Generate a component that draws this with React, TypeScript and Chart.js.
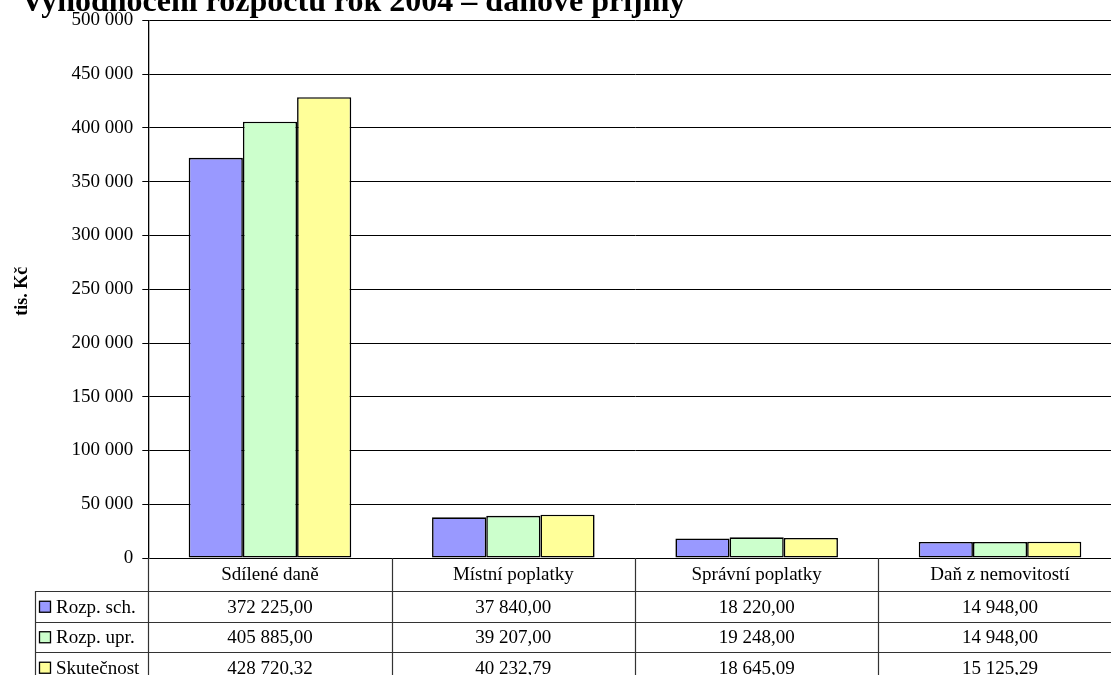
import React, { useEffect, useRef } from "react";
import { Chart, registerables } from "chart.js";

Chart.register(...registerables);

const TITLE = "Vyhodnocení rozpočtu rok 2004 – daňové příjmy";
const Y_TITLE = "tis. Kč";
const CATEGORIES = ["Sdílené daně", "Místní poplatky", "Správní poplatky", "Daň z nemovitostí"];
const SERIES_NAMES = ["Rozp. sch.", "Rozp. upr.", "Skutečnost"];
const ROZP_SCH = [372225.0, 37840.0, 18220.0, 14948.0];
const ROZP_UPR = [405885.0, 39207.0, 19248.0, 14948.0];
const SKUTECNOST = [428720.32, 40232.79, 18645.09, 15125.29];
const SERIES_COLORS = ["#9999FF", "#CCFFCC", "#FFFF99"];
const Y_MIN = 0;
const Y_MAX = 500000;
const Y_STEP = 50000;

const SERIES_VALUES = [ROZP_SCH, ROZP_UPR, SKUTECNOST];

const SERIF = '"Liberation Serif", "Times New Roman", serif';

function groupThousands(s: string): string {
  return s.replace(/\B(?=(\d{3})+(?!\d))/g, " ");
}
function fmtTick(v: number): string {
  return groupThousands(String(Math.round(v)));
}
function fmtValue(v: number): string {
  const [i, d] = v.toFixed(2).split(".");
  return groupThousands(i) + "," + d;
}

const HEADER_BOTTOM = 591;
const ROW_H = 30.5;
const TABLE_LEFT = 35;

const tablePlugin = {
  id: "tablePlugin",
  afterDraw(chart: any) {
    const ctx = chart.ctx as CanvasRenderingContext2D;
    const area = chart.chartArea;
    const W = chart.width;
    const catW = (area.right - area.left) / CATEGORIES.length;
    const bottom = HEADER_BOTTOM + ROW_H * SERIES_NAMES.length;
    ctx.save();

    // Title
    ctx.fillStyle = "#000";
    ctx.font = `bold 32px ${SERIF}`;
    ctx.textAlign = "left";
    ctx.textBaseline = "alphabetic";
    ctx.fillText(TITLE, 21, 11);

    // Y axis title
    ctx.save();
    ctx.translate(22, (area.top + area.bottom) / 2 + 2);
    ctx.rotate(-Math.PI / 2);
    ctx.font = `bold 18px ${SERIF}`;
    ctx.textAlign = "center";
    ctx.textBaseline = "middle";
    ctx.fillText(Y_TITLE, 0, 0);
    ctx.restore();

    // Table lines
    ctx.strokeStyle = "#333";
    ctx.lineWidth = 1.2;
    ctx.beginPath();
    for (let i = 0; i <= CATEGORIES.length; i++) {
      const x = Math.round(area.left + i * catW) + 0.5;
      ctx.moveTo(x, area.bottom);
      ctx.lineTo(x, bottom);
    }
    for (let r = 0; r <= SERIES_NAMES.length; r++) {
      const y = Math.round(HEADER_BOTTOM + r * ROW_H) + 0.5;
      ctx.moveTo(TABLE_LEFT, y);
      ctx.lineTo(W, y);
    }
    ctx.moveTo(TABLE_LEFT + 0.5, HEADER_BOTTOM);
    ctx.lineTo(TABLE_LEFT + 0.5, bottom);
    ctx.stroke();

    // Header text
    ctx.fillStyle = "#000";
    ctx.font = `19px ${SERIF}`;
    ctx.textAlign = "center";
    ctx.textBaseline = "middle";
    CATEGORIES.forEach((c, i) => {
      ctx.fillText(c, area.left + (i + 0.5) * catW, (area.bottom + HEADER_BOTTOM) / 2 + 1);
    });

    // Rows
    SERIES_NAMES.forEach((name, r) => {
      const cy = HEADER_BOTTOM + (r + 0.5) * ROW_H + 1.5;
      ctx.fillStyle = SERIES_COLORS[r];
      ctx.fillRect(39.5, cy - 6.5, 11, 11);
      ctx.strokeStyle = "#000";
      ctx.lineWidth = 1.3;
      ctx.strokeRect(39.5, cy - 6.5, 11, 11);
      ctx.fillStyle = "#000";
      ctx.textAlign = "left";
      ctx.fillText(name, 56, cy);
      ctx.textAlign = "center";
      SERIES_VALUES[r].forEach((v, i) => {
        ctx.fillText(fmtValue(v), area.left + (i + 0.5) * catW, cy);
      });
    });
    ctx.restore();
  },
};

export default function App() {
  const ref = useRef<HTMLCanvasElement | null>(null);
  useEffect(() => {
    if (!ref.current) return;
    const chart = new Chart(ref.current, {
      type: "bar",
      data: {
        labels: CATEGORIES,
        datasets: SERIES_NAMES.map((name, i) => ({
          label: name,
          data: SERIES_VALUES[i],
          backgroundColor: SERIES_COLORS[i],
          borderColor: "#000",
          borderWidth: 1.6,
          borderSkipped: false,
          barPercentage: 1,
          categoryPercentage: 0.668,
        })),
      },
      options: {
        responsive: false,
        animation: false,
        devicePixelRatio: 1,
        layout: { padding: { left: 0, top: 20.5, right: 8.3, bottom: 117 } },
        plugins: {
          legend: { display: false },
          title: { display: false },
          tooltip: { enabled: false },
        },
        scales: {
          x: { display: false },
          y: {
            min: Y_MIN,
            max: Y_MAX,
            ticks: {
              stepSize: Y_STEP,
              callback: (v: any) => fmtTick(Number(v)),
              font: { family: SERIF, size: 19 },
              color: "#000",
              padding: 9,
            },
            grid: { color: "#000", lineWidth: 1, tickLength: 6, drawTicks: true },
            border: { display: true, color: "#000", width: 1.3 },
            afterFit: (s: any) => {
              s.width = 148.3;
            },
          },
        },
      },
      plugins: [tablePlugin],
    } as any);
    return () => chart.destroy();
  }, []);
  return (
    <div
      style={{
        position: "fixed",
        left: 0,
        top: 0,
        width: 1111,
        height: 675,
        overflow: "hidden",
        background: "#fff",
      }}
    >
      <canvas ref={ref} width={1130} height={675} style={{ width: 1130, height: 675, display: "block" }} />
    </div>
  );
}
